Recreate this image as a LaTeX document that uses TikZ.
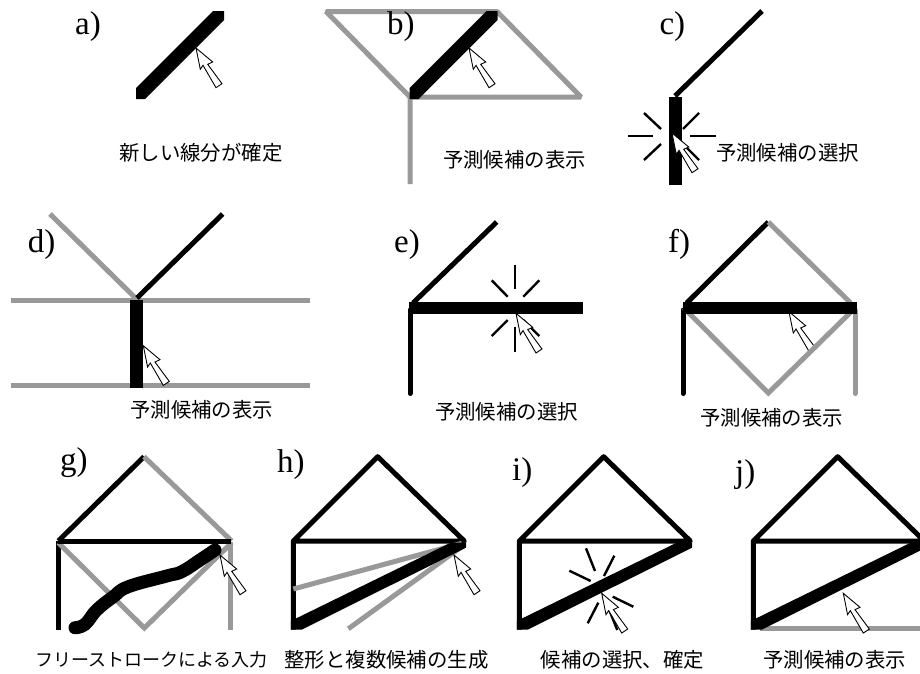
\documentclass[tikz,border=0pt]{standalone}
\usepackage{fontspec}
\setmainfont{Liberation Serif}
\newfontfamily\jpfont{Noto Sans CJK JP}
\usetikzlibrary{positioning}

\begin{document}
\begin{tikzpicture}[
  x=1pt, y=-1pt,
  ink/.style={draw=black, line width=5pt},
  cand/.style={draw=black!40, line width=5pt},
  fat/.style={draw=black, line width=12.5pt},
  ray/.style={draw=black, line width=2.4pt},
  tag/.style={anchor=base west, inner sep=0pt, font=\fontsize{33pt}{33pt}\selectfont},
  note/.style={inner sep=0pt, font=\jpfont\fontsize{20.4pt}{22pt}\selectfont},
  pointer/.pic={
    \draw[fill=white, draw=black, line width=0.9pt, line join=miter]
      (0,0) -- (16.7,14) -- (11.7,16.3) -- (26,35.7) -- (20,39.7) -- (7,17.3) -- (4.3,21.3) -- cycle;
  },
  slashbar/.pic={
    \fill[black] (0,88) -- (0,99) -- (9,99) -- (88,20) -- (88,11) -- (77,11) -- cycle;
  },
  house/.pic={
    \draw[ink, line join=round] (293.3,629.5) -- (293.3,541) -- (377.7,456.7) -- (464.3,541) -- (293.3,541);
  },
  wedgebar/.pic={
    \fill[black] (290.8,621) -- (290.8,629.5) -- (302,629.5) -- (466,547.7) -- (466,542.5) -- (451,542.5) -- cycle;
  }
]
\useasboundingbox[fill=white] (0,0) rectangle (920,673);

% panel a
\pic at (136,0) {slashbar};
\pic at (196,48) {pointer};
\node[tag] (taga) at (75,34) {a)};
\node[note] (notea) at (200.8,153) {新しい線分が確定};

% panel b
\draw[cand, line join=bevel] (410,184) -- (410,97) -- (326,11.5) -- (497,11.5) -- (581,97) -- (410,97);
\pic at (409.5,0) {slashbar};
\pic at (469,48) {pointer};
\node[tag] (tagb) at (387,34) {b)};
\node[note] (noteb) at (514.5,160) {予測候補の表示};

% panel c
\draw[ink] (675,96) -- (762,11);
\draw[fat] (675.3,97) -- (675.3,184.5);
\foreach \p/\q in {628/653, 690/716}
  \draw[ray] (\p,136) -- (\q,136);
\draw[ray] (644,113) -- (661,129);
\draw[ray] (699,113) -- (683,129);
\draw[ray] (644,160) -- (661,144);
\draw[ray] (699,160) -- (683,144);
\pic at (672,133) {pointer};
\node[tag] (tagc) at (659.3,34) {c)};
\node[note] (notec) at (787.5,153) {予測候補の選択};

% panel d
\draw[cand] (11,300) -- (310,300);
\draw[cand] (11,385.7) -- (310,385.7);
\draw[cand] (50,214) -- (136.5,299);
\draw[ink] (222.7,214) -- (137,298);
\draw[fat] (136.3,300) -- (136.3,387.7);
\pic at (143.3,345.7) {pointer};
\node[tag] (tagd) at (27.7,252) {d)};
\node[note] (noted) at (201.7,410) {予測候補の表示};

% panel e
\draw[ink] (413,303) -- (496.7,222);
\draw[ink, line cap=round] (410,310) -- (410,393.5);
\draw[fat] (409.3,308) -- (582.7,308);
\draw[ray] (515,265) -- (515,289.3);
\draw[ray] (515,326.7) -- (515,351.7);
\draw[ray] (491.7,280.3) -- (507.7,296.7);
\draw[ray] (539.3,280.3) -- (523.3,296.7);
\draw[ray] (491.7,336) -- (507.7,320);
\draw[ray] (539.3,336) -- (523.3,320);
\pic at (516,313.3) {pointer};
\node[tag] (tage) at (394,252) {e)};
\node[note] (notee) at (506.5,411.7) {予測候補の選択};

% panel f
\draw[ink] (686.7,303) -- (768.3,222);
\draw[cand] (768.3,222) -- (850.7,303);
\draw[ink, line cap=round] (683,310) -- (683,393.5);
\draw[cand, line cap=round] (855,310) -- (855,393.5);
\pic at (789,311.7) {pointer};
\draw[cand, line join=miter] (684,308) -- (768.3,393) -- (855,308);
\draw[fat] (682.7,308) -- (856.7,308);
\node[tag] (tagf) at (668,252) {f)};
\node[note] (notef) at (771.7,418) {予測候補の表示};

% panel g
\draw[ink] (58.3,541) -- (144,456.7);
\draw[cand] (144,456.7) -- (231.7,541);
\draw[ink] (58.3,629.5) -- (58.3,541);
\draw[cand] (230,629.5) -- (230,542);
\draw[cand, line join=miter] (58.3,542.7) -- (144.3,628) -- (231.7,542.7);
\draw[ink] (58.3,541.7) -- (231,541.7);
\draw[draw=black, line width=13pt, line cap=round, line join=round]
  plot[smooth, tension=0.7] coordinates {(75,627.7) (85,624.3) (96.7,610) (113.3,596.7) (128.3,586.7) (166.7,576) (181.7,571.7) (200,560) (215,550)};
\pic at (220,555) {pointer};
\node[tag] (tagg) at (60,470) {g)};
\node[note, font=\jpfont\fontsize{18pt}{20pt}\selectfont] (noteg) at (151.7,660) {フリーストロークによる入力};

% panel h
\pic at (0,0) {house};
\draw[cand] (293.3,589) -- (461.7,543.3);
\draw[cand] (348.3,628.8) -- (461.7,546.7);
\pic at (0,0) {wedgebar};
\pic at (454,555) {pointer};
\node[tag] (tagh) at (277,472) {h)};
\node[note] (noteh) at (386.5,660) {整形と複数候補の生成};

% panel i
\pic at (226,0) {house};
\pic at (226,0) {wedgebar};
\draw[ray] (586,548.3) -- (595,571);
\draw[ray] (614.3,555.7) -- (604,576);
\draw[ray] (569.3,570.7) -- (590.7,581);
\draw[ray] (612.7,596.7) -- (633.3,606.7);
\draw[ray] (598.3,602.7) -- (587.7,623.3);
\draw[ray] (608.3,607.7) -- (617.3,630);
\pic at (601.7,593.3) {pointer};
\node[tag] (tagi) at (512,480) {i)};
\node[note] (notei) at (622.5,660) {候補の選択、確定};

% panel j
\draw[cand] (760,628) -- (920,628);
\pic at (460,0) {house};
\pic at (460,0) {wedgebar};
\pic at (843.3,593.3) {pointer};
\node[tag] (tagj) at (735,482) {j)};
\node[note] (notej) at (834.7,660) {予測候補の表示};
\end{tikzpicture}
\end{document}
